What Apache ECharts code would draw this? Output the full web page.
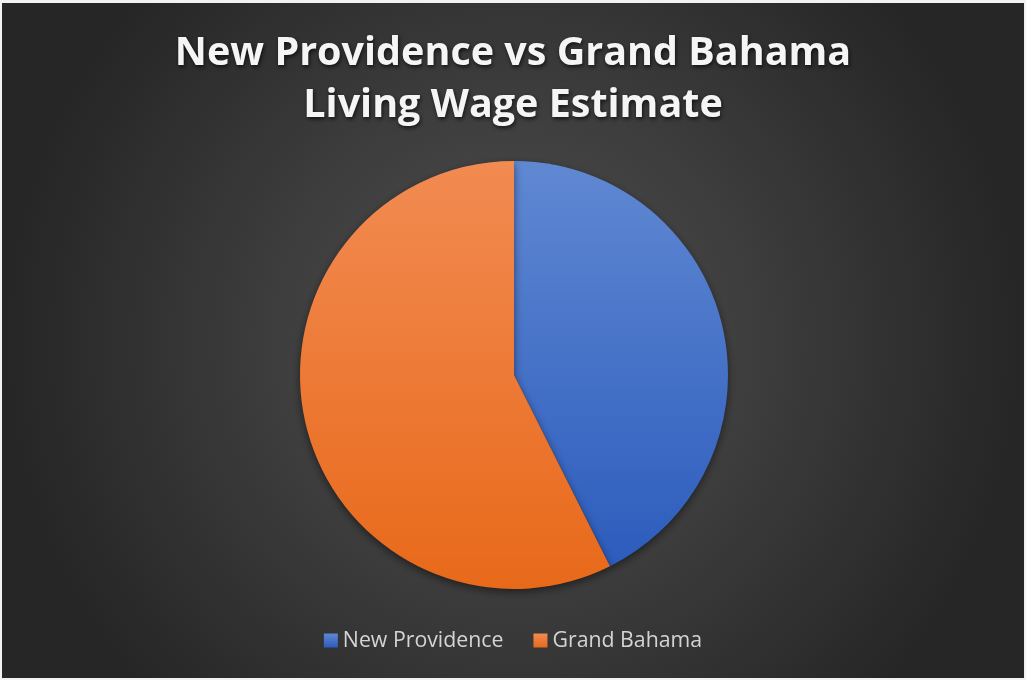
<!DOCTYPE html>
<html>
<head>
<meta charset="utf-8">
<script src="https://cdn.jsdelivr.net/npm/echarts@6/dist/echarts.min.js"></script>
<style>
  html, body { margin: 0; padding: 0; background: #f2f2f2; }
  #chart { position: absolute; left: 2px; top: 3px; width: 1022px; height: 675px; }
</style>
</head>
<body>
<div id="chart"></div>
<script>
// data (shares of the pie)
const regions = ['New Providence', 'Grand Bahama'];
const wageShare = [42.6, 57.4];
const sliceTop = ['#6088d2', '#f28b52'];
const sliceBottom = ['#2c5cbd', '#e8691a'];

const chart = echarts.init(document.getElementById('chart'), null, { renderer: 'canvas' });

chart.setOption({
  animation: false,
  backgroundColor: {
    type: 'radial', x: 0.5, y: 0.5, r: 0.75,
    colorStops: [
      { offset: 0, color: '#525252' },
      { offset: 1, color: '#262626' }
    ]
  },
  title: {
    text: 'New Providence vs Grand Bahama\nLiving Wage Estimate',
    left: 'center',
    top: 20,
    textStyle: {
      color: '#f5f5f5',
      fontFamily: 'Open Sans',
      fontWeight: 'bold',
      fontSize: 39.5,
      lineHeight: 52,
      textShadowColor: 'rgba(0,0,0,0.7)',
      textShadowBlur: 4,
      textShadowOffsetX: 1,
      textShadowOffsetY: 2
    }
  },
  legend: {
    bottom: 22,
    left: 'center',
    itemWidth: 14,
    itemHeight: 14,
    itemGap: 30,
    icon: 'rect',
    textStyle: { color: '#d4d4d4', fontFamily: 'Open Sans', fontSize: 21.3 },
    data: regions
  },
  series: [{
    type: 'pie',
    center: [512, 372],
    radius: [0, 214],
    startAngle: 90,
    clockwise: true,
    label: { show: false },
    labelLine: { show: false },
    silent: true,
    itemStyle: {
      borderWidth: 0,
      shadowColor: 'rgba(0,0,0,0.5)',
      shadowBlur: 8,
      shadowOffsetY: 3
    },
    data: regions.map((name, i) => ({
      name: name,
      value: wageShare[i],
      itemStyle: {
        color: {
          type: 'linear', x: 0, y: 0, x2: 0, y2: 1,
          colorStops: [
            { offset: 0, color: sliceTop[i] },
            { offset: 1, color: sliceBottom[i] }
          ]
        }
      }
    }))
  }]
});
</script>
</body>
</html>
